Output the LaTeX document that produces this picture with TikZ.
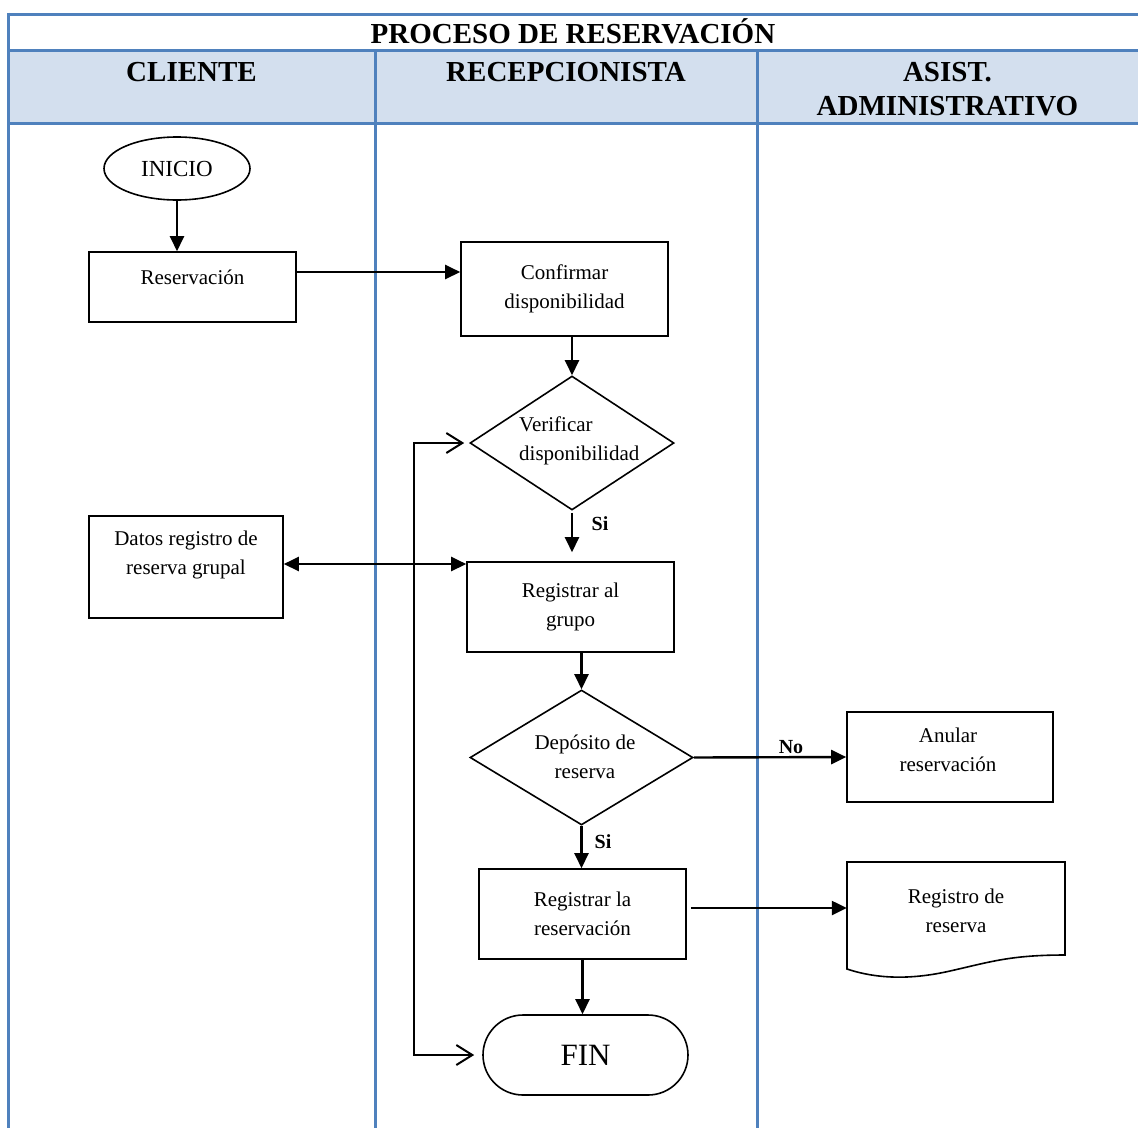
\documentclass[tikz,border=0pt]{standalone}
\usepackage{fontspec}
\setmainfont{Liberation Serif}
\usetikzlibrary{arrows.meta,shapes.geometric,calc}
\definecolor{laneblue}{RGB}{79,129,189}
\definecolor{headfill}{RGB}{211,223,238}
\begin{document}
\begin{tikzpicture}[x=1pt,y=-1pt,
  lane/.style={draw=laneblue,line width=3pt},
  body/.style={font=\fontsize{21}{29}\selectfont, align=center, inner sep=0pt},
  box/.style={draw, line width=1.6pt, rectangle, body},
  dia/.style={draw, diamond, line width=1.6pt, inner sep=0pt},
  flow/.style={line width=2.4pt, -{Triangle[length=15pt,width=14pt]}},
  both/.style={line width=2.4pt, {Triangle[length=15pt,width=14pt]}-{Triangle[length=15pt,width=14pt]}},
  loopline/.style={line width=2pt, {Straight Barb[length=16pt,width=20pt]}-{Straight Barb[length=16pt,width=20pt]}},
  lbl/.style={font=\bfseries\fontsize{20}{24}\selectfont, inner sep=0pt},
  head/.style={font=\bfseries\fontsize{29}{34}\selectfont, inner sep=0pt, anchor=base}]
\useasboundingbox (0,0) rectangle (1138,1128);
% table
\fill[headfill] (8,50) rectangle (1138,123);
\draw[lane] (8,14) -- (1138,14);
\draw[lane] (8,50) -- (1138,50);
\draw[lane] (8,123) -- (1138,123);
\draw[lane] (8,12.5) -- (8,1128);
\draw[lane] (375,50) -- (375,1128);
\draw[lane] (757,50) -- (757,1128);
\node[head] (title) at (573,43) {PROCESO DE RESERVACIÓN};
\node[head] (hc) at (191.5,81) {CLIENTE};
\node[head] (hr) at (566,81) {RECEPCIONISTA};
\node[head] (ha1) at (947.5,81) {ASIST.};
\node[head] (ha2) at (947.5,115) {ADMINISTRATIVO};
% nodes
\node[draw, ellipse, line width=1.6pt, minimum width=146pt, minimum height=63pt, inner sep=0pt, font=\fontsize{23}{28}\selectfont] (inicio) at (177,168.5) {INICIO};
\node[box, minimum width=207pt, minimum height=70pt] (resv) at (192.5,287) {};
\node[body] (resvt) at (192.5,277) {Reservación};
\node[box, minimum width=207pt, minimum height=94pt] (conf) at (564.5,289) {Confirmar\\disponibilidad};
\node[dia, minimum width=204pt, minimum height=134pt] (verif) at (572,443) {};
\node[body, align=left, anchor=west] (veriftxt) at (519,441) {Verificar\\disponibilidad};
\node[box, minimum width=194pt, minimum height=102pt] (datos) at (186,567) {};
\node[body] (datost) at (186,554.5) {Datos registro de\\reserva grupal};
\node[box, minimum width=207pt, minimum height=90pt] (reggr) at (570.5,607) {Registrar al\\grupo};
\node[dia, minimum width=223pt, minimum height=135pt] (dep) at (581.5,757.5) {};
\node[body] (dept) at (585,756.5) {Depósito de\\reserva};
\node[box, minimum width=206pt, minimum height=90pt] (anul) at (950,757) {};
\node[body] (anult) at (948,749.5) {Anular\\reservación};
\node[box, minimum width=207pt, minimum height=90pt] (regres) at (582.5,914) {Registrar la\\reservación};
\draw[line width=1.6pt] (847,862) -- (1065,862) -- (1065,955)
  .. controls (1010,955) and (990,962) .. (950,971)
  .. controls (915,979) and (880,980) .. (847,969) -- cycle;
\node[body, minimum width=218pt, minimum height=98pt] (doc) at (956,911) {Registro de\\reserva};
\node[draw, line width=1.6pt, rounded corners=40pt, minimum width=205pt, minimum height=80pt, inner sep=0pt, font=\fontsize{31}{36}\selectfont] (fin) at (585.5,1055) {FIN};
% connectors
\draw[flow] (inicio.south) -- (inicio.south |- resv.north);
\coordinate (a1) at ($(resv.east)+(0,-15)$);
\draw[flow] (a1) -- (a1 -| conf.west);
\draw[flow] (verif.north |- conf.south) -- (verif.north);
\draw[flow, shorten >=9pt, shorten <=2pt] (verif.south) -- (verif.south |- reggr.north);
\node[lbl] (si1) at (600,524) {Si};
\coordinate (a3) at ($(datos.east)+(0,-3)$);
\draw[both] (a3) -- (a3 -| reggr.west);
\draw[flow] (dep.north |- reggr.south) -- (dep.north);
\draw[flow] (dep.east) -- (anul.west);
\node[lbl] (no) at (791,747) {No};
\draw[flow] (dep.south) -- (dep.south |- regres.north);
\node[lbl] (si2) at (603,842) {Si};
\coordinate (a2) at ($(regres.east)+(4,-6)$);
\draw[flow] (a2) -- (a2 -| doc.west);
\draw[flow] (regres.south) -- (regres.south |- fin.north);
\draw[loopline, shorten <=5pt, shorten >=8pt] (verif.west) -- ++(-55,0) |- (fin.west);
\end{tikzpicture}
\end{document}
